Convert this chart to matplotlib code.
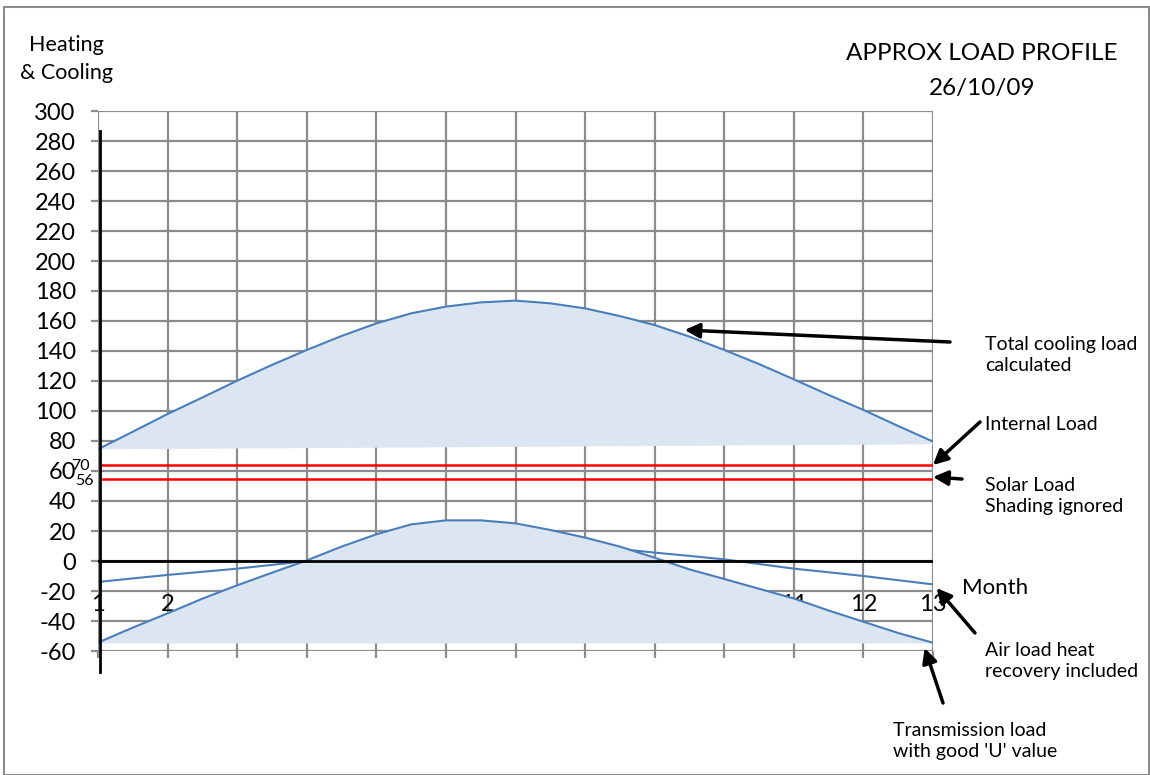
import matplotlib
matplotlib.use("Agg")
import matplotlib.pyplot as plt
from matplotlib.patches import Rectangle

plt.rcParams['font.family'] = ['Lato', 'DejaVu Sans']

# данные (шаг полмесяца)
months = [1, 1.5, 2, 2.5, 3, 3.5, 4, 4.5, 5, 5.5, 6, 6.5, 7,
          7.5, 8, 8.5, 9, 9.5, 10, 10.5, 11, 11.5, 12, 12.5, 13]
tick_months = [1, 2, 3, 4, 5, 6, 7, 8, 9, 10, 11, 12, 13]
month_labels = ['1', '2', '3', '4', '5', '6', '7', '8', '9', '10', '11', '12', '13']
total_cooling = [74.5, 86.2, 98, 109, 120.2, 130.7, 140.7, 150, 158.4, 165.1, 169.6, 172.4, 173.6,
                 171.8, 168.4, 163.3, 157.3, 149.6, 140.7, 131.3, 121.1, 110.7, 100.7, 90, 79.6]
total_base = [74.4, 77.8]  # низ заливки слева и справа
air_load = [-14, -11.6, -9.3, -7.2, -5.1, -2.6, 0, 2, 4, 5.5, 7, 8, 9,
            9.2, 9, 8, 5.6, 3.4, 1.1, -2, -5.1, -7.5, -10, -12.8, -15.6]
transmission = [-54.4, -44.4, -34.9, -25.1, -16.2, -7.8, 0.4, 9.6, 17.8, 24.4, 27.1, 27.1, 25.1,
                20.7, 15.6, 9.6, 2.2, -5.6, -12, -18.5, -25, -33, -40.5, -48, -54.5]
trans_base = [-55, -55]
internal_load = 64
solar_load = 54.5
y_ticks = list(range(-60, 301, 20))

W, H = 1150, 775
fig = plt.figure(figsize=(W / 100, H / 100), dpi=100)
ax = fig.add_axes([98 / W, 1 - 651 / H, 835 / W, 540 / H])

line_c = '#4a7ebb'
fill_c = '#dce6f2'
grid_c = '#8c8c8c'

ax.set_xlim(1, 13)
ax.set_ylim(-60, 300)
ax.set_xticks(tick_months)
ax.set_xticklabels([])
ax.set_yticks(y_ticks)
ax.set_yticklabels([str(v) for v in y_ticks], fontsize=17)
for s in ax.spines.values():
    s.set_visible(False)
ax.grid(True, color=grid_c, lw=1.6, zorder=0)
ax.set_axisbelow(True)
ax.tick_params(axis='both', color=grid_c, width=1.6, length=5)
ax.tick_params(axis='y', pad=11)

# подписи месяцев внутри графика (часть закрыта заливкой)
for m, lab in zip(tick_months, month_labels):
    ax.text(m, -29, lab, ha='center', va='center', fontsize=17, zorder=1.2)

# воздушная нагрузка (под заливкой)
ax.plot(months, air_load, color=line_c, lw=1.5, zorder=1.5)

# полная холодильная нагрузка
ax.fill(months + [13, 1], total_cooling + total_base[::-1], color=fill_c, lw=0, zorder=2)
ax.plot(months, total_cooling, color=line_c, lw=1.5, zorder=2.1)

# трансмиссионная нагрузка
ax.fill(months + [13, 1], transmission + trans_base, color=fill_c, lw=0, zorder=2)
ax.plot(months, transmission, color=line_c, lw=1.5, zorder=2.1)

# внутренняя и солнечная нагрузки
ax.axhline(internal_load, color='#ff0000', lw=1.8, zorder=3, xmin=0.003)
ax.axhline(solar_load, color='#ff0000', lw=1.8, zorder=3, xmin=0.003)
ax.text(0.75, 63.5, '70', fontsize=11.5, ha='center', va='center', clip_on=False)
ax.text(0.81, 53.3, '56', fontsize=11.5, ha='center', va='center', clip_on=False)

# оси
ax.axhline(0, color='black', lw=2, zorder=4)
ax.plot([1.03, 1.03], [-74, 287], color='black', lw=2, zorder=4, clip_on=False)


def px(x, y):
    return (x, H - y)


fig.text(66, H - 45, 'Heating', transform=None, ha='center', va='center', fontsize=15.5)
fig.text(67, H - 73, '& Cooling', transform=None, ha='center', va='center', fontsize=15.5)
fig.text(982, H - 53, 'APPROX LOAD PROFILE', transform=None, ha='center', va='center', fontsize=17.5)
fig.text(982, H - 88, '26/10/09', transform=None, ha='center', va='center', fontsize=17.5)
fig.text(995, H - 588, 'Month', transform=None, ha='center', va='center', fontsize=16)

notes = [
    ('Total cooling load\ncalculated', (985, 355), (9.43, 154), (950, 342)),
    ('Internal Load', (985, 425), (13.0, 64), (980, 422)),
    ('Solar Load\nShading ignored', (985, 496), (13.0, 56), (962, 479)),
    ('Air load heat\nrecovery included', (985, 661), (13.05, -18), (975, 633)),
    ('Transmission load\nwith good \'U\' value', (893, 741), (12.88, -58), (943, 703)),
]
for txt, tpos, head, tail in notes:
    fig.text(tpos[0], H - tpos[1], txt, transform=None, ha='left', va='center',
             fontsize=14, linespacing=1.3)
    ax.annotate('', xy=head, xycoords='data', xytext=px(*tail), textcoords='figure pixels',
                arrowprops=dict(arrowstyle='-|>', lw=2.5, color='black', mutation_scale=22,
                                shrinkA=0, shrinkB=0),
                annotation_clip=False, zorder=5)

# рамка рисунка
fig.patches.append(Rectangle((4, 0), W - 5, H - 7, transform=None, fill=False,
                             edgecolor='#8c8c8c', lw=1.5))

fig.savefig('out.png', dpi=100)
